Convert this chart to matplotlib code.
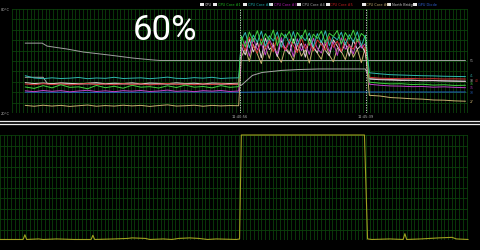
import numpy as np
import matplotlib.pyplot as plt
from matplotlib.patches import Rectangle
from matplotlib.lines import Line2D

# ── 데이터 (시간 단위: 초, 화면 왼쪽 끝 기준) ─────────────
t_pre = np.arange(30, 511, 20)      # 부하 전
t_load = np.arange(516, 796, 9)     # 부하 중 (60%)
t_post = np.arange(804, 1021, 24)   # 부하 후
t_core = np.concatenate([t_pre, t_load, t_post])

core1 = [35.0, 34.2, 35.8, 34.5, 36.3, 34.8, 35.1, 34.0, 35.9, 34.6, 35.4, 34.3, 36.0, 34.9, 35.2, 34.4, 35.7, 34.7, 36.1, 34.9, 35.3, 34.5, 35.8, 34.8, 35.2,
         64.5, 58.0, 66.8, 61.2, 67.5, 59.5, 65.8, 62.0, 67.9, 58.8, 66.2, 63.5, 67.0, 60.2, 66.5, 62.8, 68.0, 59.0, 65.5, 63.0, 67.2, 60.5, 66.0, 64.2, 67.6, 59.8, 66.4, 62.5, 67.8, 61.0, 65.9, 63.8,
         37.8, 37.2, 36.8, 36.9, 36.4, 36.6, 36.1, 36.3, 35.9, 36.0]
core2 = [41.5, 40.2, 39.8, 40.3, 39.9, 40.1, 40.5, 39.8, 40.2, 40.0, 40.6, 39.9, 40.1, 40.3, 39.8, 40.2, 40.7, 40.0, 39.9, 40.4, 40.1, 40.6, 39.9, 40.2, 40.3,
         62.0, 66.5, 57.5, 65.0, 60.8, 67.2, 58.5, 64.6, 61.5, 66.8, 57.9, 65.5, 60.0, 67.0, 59.2, 64.8, 61.8, 66.2, 58.2, 65.8, 60.5, 67.4, 58.8, 64.2, 62.2, 66.6, 59.5, 65.2, 60.9, 66.9, 58.6, 64.9,
         43.2, 42.6, 42.1, 41.9, 41.7, 41.5, 41.4, 41.2, 41.1, 41.0]
core3 = [32.8, 32.3, 33.0, 32.5, 32.9, 32.2, 32.7, 33.1, 32.4, 32.8, 32.3, 32.9, 32.6, 33.0, 32.4, 32.7, 33.2, 32.5, 32.8, 32.3, 32.9, 32.6, 33.0, 32.4, 32.7,
         55.0, 61.5, 52.8, 63.0, 56.5, 60.2, 53.5, 62.5, 57.8, 54.2, 63.5, 55.8, 61.0, 52.5, 62.8, 56.0, 59.8, 53.8, 63.2, 57.2, 54.6, 62.0, 55.5, 60.8, 53.2, 63.4, 56.8, 59.5, 54.0, 62.6, 57.5, 60.0,
         36.6, 36.0, 35.6, 35.5, 35.2, 35.3, 34.9, 35.1, 34.8, 34.6]
core4 = [37.5, 37.0, 37.3, 36.9, 37.4, 37.1, 36.8, 37.2, 37.5, 36.9, 37.2, 37.0, 37.4, 36.8, 37.3, 37.1, 36.9, 37.4, 37.0, 37.2, 36.8, 37.3, 37.1, 37.0, 37.2,
         58.0, 53.5, 62.5, 55.2, 60.8, 51.8, 63.2, 56.5, 59.0, 52.5, 61.8, 57.0, 54.0, 62.8, 55.8, 60.2, 52.2, 63.0, 57.5, 54.8, 61.5, 56.2, 53.0, 62.2, 58.5, 55.0, 60.5, 52.8, 62.0, 56.8, 59.2, 54.5,
         39.6, 39.2, 39.0, 38.8, 38.9, 38.6, 38.7, 38.5, 38.4, 38.3]
core5 = [36.7, 36.3, 36.9, 36.4, 36.8, 36.2, 36.6, 37.0, 36.4, 36.7, 36.3, 36.9, 36.5, 36.8, 36.2, 36.6, 37.0, 36.5, 36.7, 36.3, 36.8, 36.4, 36.9, 36.5, 36.7,
         60.5, 56.0, 63.8, 58.2, 54.5, 62.8, 57.5, 61.2, 55.2, 64.0, 59.0, 56.5, 62.5, 58.8, 54.8, 63.5, 57.0, 60.8, 55.8, 62.2, 59.5, 56.2, 64.2, 57.8, 61.5, 55.5, 63.0, 58.5, 56.8, 62.0, 59.8, 57.2,
         40.6, 40.1, 39.9, 39.8, 39.9, 39.7, 39.8, 39.6, 39.7, 39.6]
core6 = [24.4, 23.9, 24.5, 24.0, 24.4, 23.8, 24.2, 24.6, 23.9, 24.3, 24.0, 24.5, 24.1, 24.4, 23.8, 24.3, 24.7, 24.0, 24.2, 24.5, 23.9, 24.4, 24.1, 24.3, 24.2,
         52.5, 57.0, 49.8, 59.5, 54.0, 48.5, 58.2, 51.5, 60.5, 53.2, 49.2, 57.8, 55.0, 50.2, 59.8, 52.8, 56.5, 48.8, 58.8, 54.5, 51.0, 60.0, 53.5, 49.5, 57.5, 55.5, 50.8, 59.2, 52.2, 56.8, 49.0, 58.0,
         30.2, 29.8, 28.9, 28.6, 28.2, 28.0, 27.5, 27.4, 27.0, 26.8]

t_cpu = [30, 70, 80, 510, 516, 541, 563, 608, 646, 690, 795, 804, 900, 1020]
cpu = [40.6, 40.6, 36.8, 36.5, 36.0, 41.7, 43.4, 44.6, 45.1, 45.4, 45.4, 39.8, 38.9, 38.3]

t_nb = [30, 68, 79, 124, 160, 220, 272, 317, 333, 1020]
north_bridge = [60.3, 60.3, 58.6, 56.9, 55.2, 53.4, 51.7, 50.6, 50.3, 50.3]

t_gpu = [30, 200, 400, 516, 600, 800, 1020]
gpu = [32.0, 31.9, 32.1, 32.0, 32.2, 32.1, 32.1]

t_util = [-27, 25, 29, 33, 60, 70, 100, 140, 178, 182, 186, 230, 260, 270, 300, 310, 340, 360, 375,
          400, 420, 440, 460, 505, 512, 516, 793, 800, 810, 850, 880, 884, 888, 920, 960, 990, 1000, 1026]
util = [0.5, 0.5, 5, 0.5, 1, 0.5, 1, 0.5, 0.5, 4.5, 0.5, 1, 1.5, 2, 1.5, 0.5, 1, 0.5, 1.5,
        2, 1.5, 0.5, 1, 0.5, 1, 100, 100, 1, 0.5, 1, 0.5, 6, 0.5, 1, 2, 2.5, 1, 0.5]

event_t = [513, 796]
event_labels = ["11:40:56", "11:45:39"]

names = ["CPU", "CPU Core #1", "CPU Core #2", "CPU Core #3", "CPU Core #4",
         "CPU Core #5", "CPU Core #6", "North Bridge", "GPU Diode"]
legend_colors = ["#c8c8c8", "#22c022", "#20b4b4", "#c020c0", "#b4b4b4",
                 "#d02020", "#c8b070", "#d0d0d0", "#3060d0"]
end_labels = ["51", "41", "38", "40", "36", "35", "33", "27"]

# ── 스타일 ─────────────────────────────────────────
BG = "#000000"
GRID = "#0b400b"
fig = plt.figure(figsize=(4.8, 2.51), dpi=100, facecolor=BG)

ax = fig.add_axes([12 / 480, 137 / 251, 456 / 480, 104 / 251], facecolor=BG)
ax2 = fig.add_axes([0, 10 / 251, 468 / 480, 105 / 251], facecolor=BG)

for a, x0 in ((ax, 0), (ax2, -27)):
    a.set_xlim(x0, 1026)
    a.set_xticks(np.arange(x0, 1026, 8.4))
    a.tick_params(length=0, labelbottom=False, labelleft=False)
    a.grid(color=GRID, lw=0.6)
    a.set_axisbelow(True)
    for s in a.spines.values():
        s.set_visible(False)

ax.set_ylim(20, 80)
ax.set_yticks(np.arange(20, 81, 6))
ax2.set_ylim(0, 100)
ax2.set_yticks(np.arange(0, 101, 10))

# ── 온도 선 ─────────────────────────────────────────
lw = 0.7
ax.plot(t_gpu, gpu, color="#2566c8", lw=lw)
ax.plot(t_nb, north_bridge, color="#a0a0a0", lw=lw)
ax.plot(t_cpu, cpu, color="#a8a8a8", lw=lw)
ax.plot(t_core, core6, color="#c8b070", lw=lw)
ax.plot(t_core, core4, color="#e8d0dc", lw=lw)
ax.plot(t_core, core3, color="#c040c8", lw=lw)
ax.plot(t_core, core5, color="#d03030", lw=lw)
ax.plot(t_core, core2, color="#30b8b0", lw=lw)
ax.plot(t_core, core1, color="#40d040", lw=lw)

for t, lab in zip(event_t, event_labels):
    ax.axvline(t, color="#e0e0e0", lw=0.6, ls=(0, (1.5, 1.5)))
    ax.text(t, 19.2, lab, color="#b0b0b0", fontsize=2.6, ha="center", va="top")

# 오른쪽 끝 값 라벨 (겹치지 않게 살짝 위아래로)
ends = [north_bridge[-1], core2[-1], cpu[-1], core5[-1], core1[-1], core3[-1], gpu[-1], core6[-1]]
end_cols = ["#b0b0b0", "#30b8b0", "#d0d0d0", "#d03030", "#40d040", "#c040c8", "#2566c8", "#c8b070"]
end_dx = [1.1, 1.1, 1.1, 4.7, 1.1, 1.1, 1.1, 1.1]
end_dy = [0, 0.8, 1.1, -0.5, 1.5, 0.6, -0.3, 0]
for v, lab, c, dx, dy in zip(ends, end_labels, end_cols, end_dx, end_dy):
    ax.annotate(lab, (1026, v), xytext=(dx, dy), textcoords="offset points",
                color=c, fontsize=2.2, va="center", ha="left", annotation_clip=False)

ax.text(-0.005, 1.0, "80°C", transform=ax.transAxes, color="#b0b0b0",
        fontsize=2.6, ha="right", va="center")
ax.text(-0.005, 0.0, "20°C", transform=ax.transAxes, color="#b0b0b0",
        fontsize=2.6, ha="right", va="center")

# ── 범례 (체크박스) ─────────────────────────────────
box_px = [200, 213, 243, 269, 297, 326, 362, 387, 413]
for bx, name, c in zip(box_px, names, legend_colors):
    fig.patches.append(Rectangle((bx / 480, 1 - 7 / 251), 3.5 / 480, 3.5 / 251,
                                 transform=fig.transFigure, facecolor="#e8e8e8",
                                 edgecolor="none"))
    fig.text((bx + 4.5) / 480, 1 - 5.3 / 251, name, color=c, fontsize=2.5,
             ha="left", va="center")

fig.text(165 / 480, 1 - 31 / 251, "60%", color="white", fontsize=25,
         family="Roboto", ha="center", va="center")

# 패널 구분선
for y in (122, 125):
    fig.add_artist(Line2D([0, 1], [1 - y / 251] * 2, color="#e8e8e8", lw=0.9,
                          transform=fig.transFigure))

# ── 부하(%) ─────────────────────────────────────────
ax2.plot(t_util, util, color="#a0a020", lw=0.8, clip_on=False)

fig.savefig("out.png", dpi=100, facecolor=BG)
